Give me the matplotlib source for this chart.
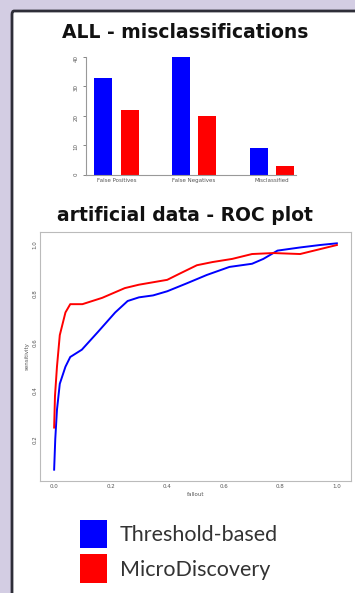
import numpy as np
import matplotlib.pyplot as plt
from matplotlib.patches import FancyBboxPatch

# data
kategori = ["False Positives", "False Negatives", "Misclassified"]
threshold_bar = [33, 40, 9]
micro_bar = [22, 20, 3.2]

fpr_threshold = [0.0, 0.004, 0.01, 0.02, 0.04, 0.057, 0.098, 0.155, 0.216, 0.26,
                 0.30, 0.35, 0.40, 0.47, 0.54, 0.62, 0.70, 0.74, 0.79, 0.87, 0.94, 1.0]
tpr_threshold = [0.067, 0.193, 0.313, 0.42, 0.49, 0.53, 0.56, 0.633, 0.713, 0.76,
                 0.775, 0.783, 0.80, 0.833, 0.867, 0.90, 0.913, 0.933, 0.967, 0.98, 0.99, 0.997]
fpr_micro = [0.0, 0.003, 0.01, 0.02, 0.04, 0.057, 0.10, 0.17, 0.25, 0.30, 0.40,
             0.445, 0.505, 0.56, 0.63, 0.70, 0.775, 0.87, 0.94, 1.0]
tpr_micro = [0.24, 0.37, 0.49, 0.62, 0.713, 0.747, 0.747, 0.773, 0.813, 0.827, 0.847,
             0.873, 0.907, 0.92, 0.933, 0.953, 0.957, 0.953, 0.973, 0.99]

label_series = ["Threshold-based", "MicroDiscovery"]
warna = ["#0000ff", "#ff0000"]

W, H = 355, 593
fig = plt.figure(figsize=(W / 100, H / 100), dpi=100)
fig.patch.set_facecolor("#d3cde3")

# kotak putih
box = FancyBboxPatch((12 / W, -0.05), 1.0, (H - 11) / H + 0.05,
                     boxstyle="round,pad=0,rounding_size=0.006",
                     transform=fig.transFigure, facecolor="white",
                     edgecolor="#2e2e38", linewidth=2.0, zorder=-5)
fig.patches.append(box)


def rect(l, t, r, b):
    return [l / W, 1 - b / H, (r - l) / W, (b - t) / H]


# bar chart
ax1 = fig.add_axes(rect(86, 57, 296, 175))
ax1.patch.set_alpha(0)
x = np.arange(len(kategori))
b1 = ax1.bar(x - 0.17, threshold_bar, width=0.23, color=warna[0], label=label_series[0])
b2 = ax1.bar(x + 0.17, micro_bar, width=0.23, color=warna[1], label=label_series[1])
ax1.set_xlim(-0.39, 2.31)
ax1.set_ylim(0, 40)
ax1.set_yticks([0, 10, 20, 30, 40])
ax1.set_xticks(x)
ax1.set_xticklabels(kategori, fontsize=4)
ax1.tick_params(axis="y", labelsize=4, labelrotation=90, length=2, width=0.5, colors="#555555")
ax1.tick_params(axis="x", length=0, colors="#555555", pad=2)
for s in ["top", "right"]:
    ax1.spines[s].set_visible(False)
for s in ["left", "bottom"]:
    ax1.spines[s].set_color("#999999")
    ax1.spines[s].set_linewidth(0.8)
fig.text(185 / W, 1 - 33 / H, "ALL - misclassifications", ha="center", va="center",
         fontsize=13.5, fontweight="bold", color="#111111")

# ROC
ax2 = fig.add_axes(rect(40, 232, 351, 481))
ax2.plot(fpr_threshold, tpr_threshold, color=warna[0], linewidth=1.4)
ax2.plot(fpr_micro, tpr_micro, color=warna[1], linewidth=1.4)
ax2.set_xticks([0.0, 0.2, 0.4, 0.6, 0.8, 1.0])
ax2.set_yticks([0.2, 0.4, 0.6, 0.8, 1.0])
ax2.tick_params(labelsize=4, length=0, colors="#555555", pad=2)
ax2.tick_params(axis="y", labelrotation=90)
ax2.set_xlabel("fallout", fontsize=4, color="#555555", labelpad=2)
ax2.set_ylabel("sensitivity", fontsize=4, color="#555555", labelpad=2)
for s in ax2.spines.values():
    s.set_color("#bbbbbb")
    s.set_linewidth(0.8)
fig.text(185 / W, 1 - 215 / H, "artificial data - ROC plot", ha="center", va="center",
         fontsize=13.5, fontweight="bold", color="#111111")

# legenda
leg = fig.legend(handles=[b1, b2], labels=label_series, loc="upper left",
                 bbox_to_anchor=(65 / W, 1 - 505 / H), frameon=False,
                 prop={"family": "Lato", "size": 15.5}, handlelength=1.25, handleheight=1.65,
                 handletextpad=0.6, labelspacing=0.28, borderpad=0.2)
for t in leg.get_texts():
    t.set_color("#333333")

plt.savefig("out.png", dpi=100, facecolor=fig.get_facecolor())
